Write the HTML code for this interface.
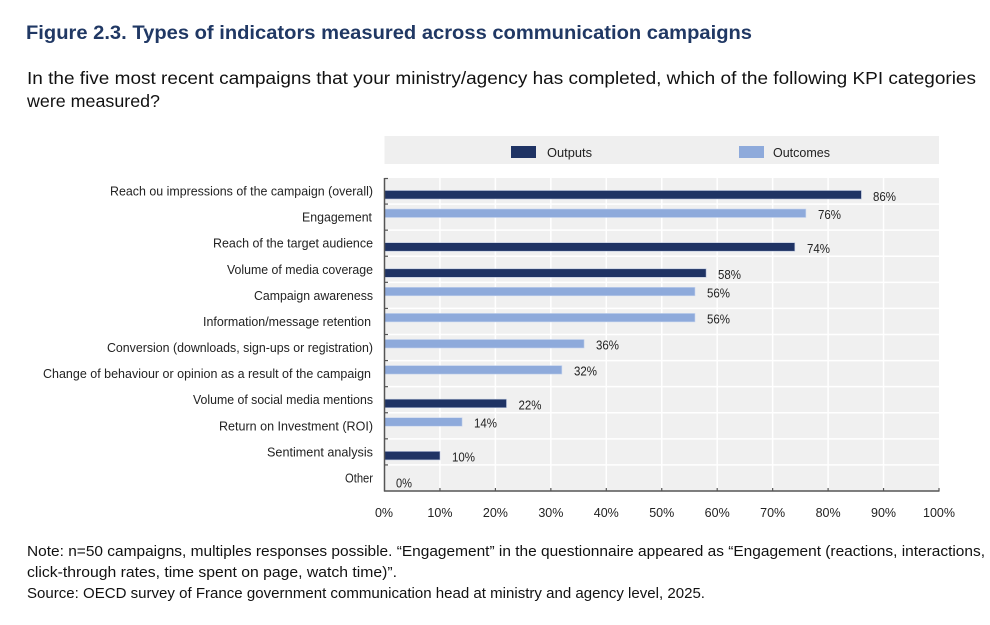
<!DOCTYPE html>
<html>
<head>
<meta charset="utf-8">
<style>
html,body{margin:0;padding:0;background:#fff;}
svg{display:block;}
text{font-family:"Liberation Sans",Arial,sans-serif;}
</style>
</head>
<body>
<svg width="990" height="625" viewBox="0 0 990 625" xmlns="http://www.w3.org/2000/svg">
<rect x="0" y="0" width="990" height="625" fill="#fff"/>
<!-- Title -->
<text x="26" y="39" font-size="19.5" font-weight="bold" fill="#203864" textLength="726" lengthAdjust="spacingAndGlyphs">Figure 2.3. Types of indicators measured across communication campaigns</text>
<text x="27" y="84" font-size="17.5" fill="#111" textLength="949" lengthAdjust="spacingAndGlyphs">In the five most recent campaigns that your ministry/agency has completed, which of the following KPI categories</text>
<text x="27" y="107" font-size="17.5" fill="#111" textLength="133" lengthAdjust="spacingAndGlyphs">were measured?</text>

<!-- Legend -->
<rect x="384.5" y="136" width="554.5" height="28" fill="#efefef"/>
<rect x="511" y="146" width="25" height="12" fill="#1f3364"/>
<text x="547" y="157" font-size="12.5" fill="#222" textLength="45" lengthAdjust="spacingAndGlyphs">Outputs</text>
<rect x="739" y="146" width="25" height="12" fill="#8eaadb"/>
<text x="773" y="157" font-size="12.5" fill="#222" textLength="57" lengthAdjust="spacingAndGlyphs">Outcomes</text>

<!-- Plot area -->
<rect x="384.5" y="178" width="554.5" height="313" fill="#f0f0f0"/>
<g stroke="#fff" stroke-width="1.5">
<line x1="439.95" y1="178" x2="439.95" y2="491"/>
<line x1="495.4" y1="178" x2="495.4" y2="491"/>
<line x1="550.85" y1="178" x2="550.85" y2="491"/>
<line x1="606.3" y1="178" x2="606.3" y2="491"/>
<line x1="661.75" y1="178" x2="661.75" y2="491"/>
<line x1="717.2" y1="178" x2="717.2" y2="491"/>
<line x1="772.65" y1="178" x2="772.65" y2="491"/>
<line x1="828.1" y1="178" x2="828.1" y2="491"/>
<line x1="883.55" y1="178" x2="883.55" y2="491"/>
<line x1="384.5" y1="204.08" x2="939" y2="204.08"/>
<line x1="384.5" y1="230.17" x2="939" y2="230.17"/>
<line x1="384.5" y1="256.25" x2="939" y2="256.25"/>
<line x1="384.5" y1="282.33" x2="939" y2="282.33"/>
<line x1="384.5" y1="308.42" x2="939" y2="308.42"/>
<line x1="384.5" y1="334.5" x2="939" y2="334.5"/>
<line x1="384.5" y1="360.58" x2="939" y2="360.58"/>
<line x1="384.5" y1="386.67" x2="939" y2="386.67"/>
<line x1="384.5" y1="412.75" x2="939" y2="412.75"/>
<line x1="384.5" y1="438.83" x2="939" y2="438.83"/>
<line x1="384.5" y1="464.92" x2="939" y2="464.92"/>
</g>

<!-- Bars -->
<g>
<rect x="384.5" y="190.5" width="476.9" height="8.5" fill="#1f3364" stroke="#b9c4dc" stroke-width="0.6"/>
<rect x="384.5" y="209" width="421.4" height="8.5" fill="#8eaadb" stroke="#c9d6ee" stroke-width="0.6"/>
<rect x="384.5" y="242.7" width="410.3" height="8.5" fill="#1f3364" stroke="#b9c4dc" stroke-width="0.6"/>
<rect x="384.5" y="268.8" width="321.6" height="8.5" fill="#1f3364" stroke="#b9c4dc" stroke-width="0.6"/>
<rect x="384.5" y="287.3" width="310.5" height="8.5" fill="#8eaadb" stroke="#c9d6ee" stroke-width="0.6"/>
<rect x="384.5" y="313.4" width="310.5" height="8.5" fill="#8eaadb" stroke="#c9d6ee" stroke-width="0.6"/>
<rect x="384.5" y="339.5" width="199.6" height="8.5" fill="#8eaadb" stroke="#c9d6ee" stroke-width="0.6"/>
<rect x="384.5" y="365.6" width="177.4" height="8.5" fill="#8eaadb" stroke="#c9d6ee" stroke-width="0.6"/>
<rect x="384.5" y="399.2" width="122" height="8.5" fill="#1f3364" stroke="#b9c4dc" stroke-width="0.6"/>
<rect x="384.5" y="417.7" width="77.6" height="8.5" fill="#8eaadb" stroke="#c9d6ee" stroke-width="0.6"/>
<rect x="384.5" y="451.4" width="55.5" height="8.5" fill="#1f3364" stroke="#b9c4dc" stroke-width="0.6"/>
</g>

<!-- Value labels -->
<g font-size="12.5" fill="#222">
<text x="873" y="201" textLength="23" lengthAdjust="spacingAndGlyphs">86%</text>
<text x="818" y="219" textLength="23" lengthAdjust="spacingAndGlyphs">76%</text>
<text x="807" y="253" textLength="23" lengthAdjust="spacingAndGlyphs">74%</text>
<text x="718" y="279" textLength="23" lengthAdjust="spacingAndGlyphs">58%</text>
<text x="707" y="297.5" textLength="23" lengthAdjust="spacingAndGlyphs">56%</text>
<text x="707" y="323.5" textLength="23" lengthAdjust="spacingAndGlyphs">56%</text>
<text x="596" y="349.5" textLength="23" lengthAdjust="spacingAndGlyphs">36%</text>
<text x="574" y="375.5" textLength="23" lengthAdjust="spacingAndGlyphs">32%</text>
<text x="518.5" y="409.5" textLength="23" lengthAdjust="spacingAndGlyphs">22%</text>
<text x="474" y="427.5" textLength="23" lengthAdjust="spacingAndGlyphs">14%</text>
<text x="452" y="461.5" textLength="23" lengthAdjust="spacingAndGlyphs">10%</text>
<text x="396" y="487.5" textLength="16" lengthAdjust="spacingAndGlyphs">0%</text>
</g>

<!-- Axes -->
<g stroke="#555" stroke-width="1.5" fill="none">
<line x1="384.5" y1="178" x2="384.5" y2="491.5"/>
<line x1="384" y1="491" x2="939.5" y2="491"/>
</g>
<g stroke="#555" stroke-width="1.2">
<line x1="384.5" y1="178.5" x2="388" y2="178.5"/>
<line x1="384.5" y1="204.08" x2="388" y2="204.08"/>
<line x1="384.5" y1="230.17" x2="388" y2="230.17"/>
<line x1="384.5" y1="256.25" x2="388" y2="256.25"/>
<line x1="384.5" y1="282.33" x2="388" y2="282.33"/>
<line x1="384.5" y1="308.42" x2="388" y2="308.42"/>
<line x1="384.5" y1="334.5" x2="388" y2="334.5"/>
<line x1="384.5" y1="360.58" x2="388" y2="360.58"/>
<line x1="384.5" y1="386.67" x2="388" y2="386.67"/>
<line x1="384.5" y1="412.75" x2="388" y2="412.75"/>
<line x1="384.5" y1="438.83" x2="388" y2="438.83"/>
<line x1="384.5" y1="464.92" x2="388" y2="464.92"/>
<line x1="439.95" y1="488" x2="439.95" y2="491"/>
<line x1="495.4" y1="488" x2="495.4" y2="491"/>
<line x1="550.85" y1="488" x2="550.85" y2="491"/>
<line x1="606.3" y1="488" x2="606.3" y2="491"/>
<line x1="661.75" y1="488" x2="661.75" y2="491"/>
<line x1="717.2" y1="488" x2="717.2" y2="491"/>
<line x1="772.65" y1="488" x2="772.65" y2="491"/>
<line x1="828.1" y1="488" x2="828.1" y2="491"/>
<line x1="883.55" y1="488" x2="883.55" y2="491"/>
<line x1="939" y1="488" x2="939" y2="491"/>
</g>

<!-- X tick labels -->
<g font-size="12.5" fill="#222" text-anchor="middle">
<text x="384" y="517">0%</text>
<text x="439.95" y="517">10%</text>
<text x="495.4" y="517">20%</text>
<text x="550.85" y="517">30%</text>
<text x="606.3" y="517">40%</text>
<text x="661.75" y="517">50%</text>
<text x="717.2" y="517">60%</text>
<text x="772.65" y="517">70%</text>
<text x="828.1" y="517">80%</text>
<text x="883.55" y="517">90%</text>
<text x="939" y="517">100%</text>
</g>

<!-- Category labels -->
<g font-size="13" fill="#222">
<text x="110" y="195.5" textLength="263" lengthAdjust="spacingAndGlyphs">Reach ou impressions of the campaign (overall)</text>
<text x="302" y="221.5" textLength="70" lengthAdjust="spacingAndGlyphs">Engagement</text>
<text x="213" y="247.7" textLength="160" lengthAdjust="spacingAndGlyphs">Reach of the target audience</text>
<text x="227" y="273.8" textLength="146" lengthAdjust="spacingAndGlyphs">Volume of media coverage</text>
<text x="254" y="299.9" textLength="119" lengthAdjust="spacingAndGlyphs">Campaign awareness</text>
<text x="203" y="326" textLength="168" lengthAdjust="spacingAndGlyphs">Information/message retention</text>
<text x="107" y="352" textLength="266" lengthAdjust="spacingAndGlyphs">Conversion (downloads, sign-ups or registration)</text>
<text x="43" y="378.1" textLength="328" lengthAdjust="spacingAndGlyphs">Change of behaviour or opinion as a result of the campaign</text>
<text x="193" y="404.2" textLength="180" lengthAdjust="spacingAndGlyphs">Volume of social media mentions</text>
<text x="219" y="430.3" textLength="154" lengthAdjust="spacingAndGlyphs">Return on Investment (ROI)</text>
<text x="267" y="456.4" textLength="106" lengthAdjust="spacingAndGlyphs">Sentiment analysis</text>
<text x="345" y="482.5" textLength="28" lengthAdjust="spacingAndGlyphs">Other</text>
</g>

<!-- Notes -->
<g font-size="14.5" fill="#111">
<text x="27" y="556" textLength="958" lengthAdjust="spacingAndGlyphs">Note: n=50 campaigns, multiples responses possible. “Engagement” in the questionnaire appeared as “Engagement (reactions, interactions,</text>
<text x="27" y="577" textLength="370" lengthAdjust="spacingAndGlyphs">click-through rates, time spent on page, watch time)”.</text>
<text x="27" y="598" textLength="678" lengthAdjust="spacingAndGlyphs">Source: OECD survey of France government communication head at ministry and agency level, 2025.</text>
</g>
</svg>
</body>
</html>
